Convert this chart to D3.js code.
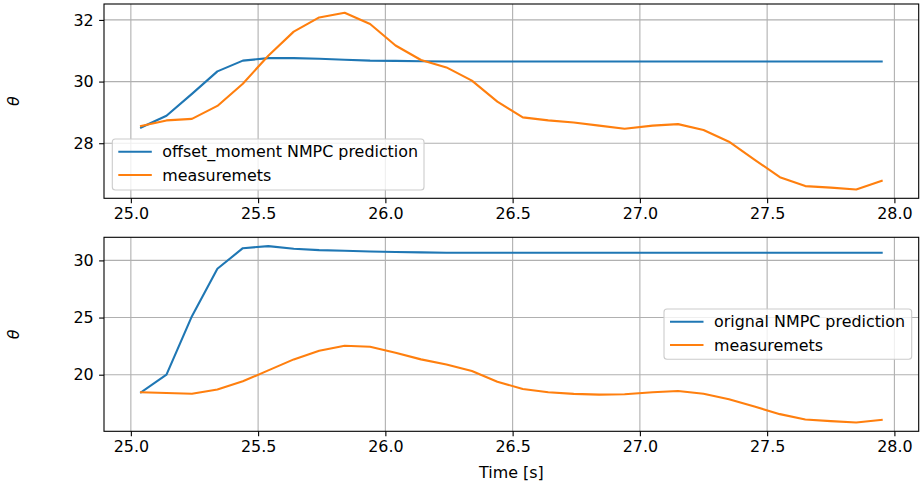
<!DOCTYPE html>
<html>
<head>
<meta charset="utf-8">
<script src="https://cdn.jsdelivr.net/npm/d3@7"></script>
<style>
  html, body { margin: 0; padding: 0; background: #fff; }
  svg { display: block; font-family: "DejaVu Sans", sans-serif; }
</style>
</head>
<body>
<svg id="chart" width="920" height="482"></svg>
<script>
// Sample times [s]
const times = [25.04, 25.14, 25.24, 25.34, 25.44, 25.54, 25.64, 25.74, 25.84, 25.94,
               26.04, 26.14, 26.24, 26.34, 26.44, 26.54, 26.64, 26.74, 26.84, 26.94,
               27.05, 27.15, 27.25, 27.35, 27.45, 27.55, 27.65, 27.75, 27.85, 27.95];

// Upper panel: offset_moment NMPC
const offsetPrediction = [28.51, 28.89, 29.60, 30.33, 30.68, 30.76, 30.76, 30.74, 30.71, 30.68,
                          30.67, 30.66, 30.65, 30.65, 30.65, 30.65, 30.65, 30.65, 30.65, 30.65,
                          30.65, 30.65, 30.65, 30.65, 30.65, 30.65, 30.65, 30.65, 30.65, 30.65];
const offsetMeasurements = [28.56, 28.74, 28.79, 29.21, 29.93, 30.84, 31.62, 32.08, 32.23, 31.87,
                            31.17, 30.70, 30.46, 30.03, 29.35, 28.84, 28.74, 28.67, 28.57, 28.47,
                            28.57, 28.62, 28.43, 28.05, 27.47, 26.90, 26.61, 26.56, 26.50, 26.78];

// Lower panel: original NMPC
const origPrediction = [18.46, 20.00, 25.12, 29.27, 31.07, 31.25, 31.02, 30.90, 30.84, 30.78,
                        30.73, 30.70, 30.67, 30.67, 30.67, 30.67, 30.67, 30.67, 30.67, 30.67,
                        30.67, 30.67, 30.67, 30.67, 30.67, 30.67, 30.67, 30.67, 30.67, 30.67];
const origMeasurements = [18.46, 18.40, 18.34, 18.70, 19.42, 20.38, 21.34, 22.10, 22.53, 22.44,
                          21.92, 21.34, 20.90, 20.32, 19.39, 18.75, 18.46, 18.32, 18.26, 18.29,
                          18.46, 18.58, 18.34, 17.86, 17.21, 16.55, 16.08, 15.94, 15.82, 16.05];

const xTicks = [25.0, 25.5, 26.0, 26.5, 27.0, 27.5, 28.0];
const yTicksTop = [28, 30, 32];
const yTicksBottom = [20, 25, 30];

const legendTop = ["offset_moment NMPC prediction", "measuremets"];
const legendBottom = ["orignal NMPC prediction", "measuremets"];

const BLUE = "#1f77b4", ORANGE = "#ff7f0e";
const FONT = 15.9;

const svg = d3.select("#chart");
const left = 104, right = 918.7;

function padded(arrays) {
  const all = arrays.flat();
  const lo = d3.min(all), hi = d3.max(all), m = (hi - lo) * 0.05;
  return [lo - m, hi + m];
}

const xDomain = padded([times]);
const x = d3.scaleLinear().domain(xDomain).range([left, right]);

function panel(cfg) {
  const { top, bottom, series, yTicks, legend, legendBox } = cfg;
  const y = d3.scaleLinear().domain(padded(series)).range([bottom, top]);
  const g = svg.append("g");

  // grid
  g.append("g").selectAll("line").data(xTicks).join("line")
    .attr("x1", d => x(d)).attr("x2", d => x(d))
    .attr("y1", top).attr("y2", bottom)
    .attr("stroke", "#b0b0b0").attr("stroke-width", 1.1);
  g.append("g").selectAll("line").data(yTicks).join("line")
    .attr("x1", left).attr("x2", right)
    .attr("y1", d => y(d)).attr("y2", d => y(d))
    .attr("stroke", "#b0b0b0").attr("stroke-width", 1.1);

  // series lines
  const line = d3.line().x((d, i) => x(times[i])).y(d => y(d));
  const colors = [BLUE, ORANGE];
  series.forEach((s, k) => {
    g.append("path").datum(s)
      .attr("d", line)
      .attr("fill", "none")
      .attr("stroke", colors[k])
      .attr("stroke-width", 2.1)
      .attr("stroke-linejoin", "round")
      .attr("stroke-linecap", "square");
  });

  // axes
  const xAxis = d3.axisBottom(x).tickValues(xTicks).tickFormat(d3.format(".1f"))
    .tickSize(4.9).tickPadding(4.5);
  const ax = g.append("g").attr("transform", `translate(0,${bottom})`).call(xAxis);
  const yAxis = d3.axisLeft(y).tickValues(yTicks).tickFormat(d3.format("d"))
    .tickSize(4.9).tickPadding(5.5);
  const ay = g.append("g").attr("transform", `translate(${left},0)`).call(yAxis);
  [ax, ay].forEach(a => {
    a.select(".domain").remove();
    a.selectAll("line").attr("stroke", "#000").attr("stroke-width", 1.1);
    a.selectAll("text").attr("font-size", FONT)
      .attr("font-family", "DejaVu Sans").attr("fill", "#000");
  });

  // frame
  g.append("rect")
    .attr("x", left).attr("y", top)
    .attr("width", right - left).attr("height", bottom - top)
    .attr("fill", "none").attr("stroke", "#000").attr("stroke-width", 1.1);

  // y label
  g.append("text")
    .attr("transform", `translate(19,${(top + bottom) / 2}) rotate(-90)`)
    .attr("text-anchor", "middle")
    .attr("font-size", FONT).attr("font-style", "italic")
    .attr("font-family", "DejaVu Sans")
    .text("θ");

  // legend
  const lb = legendBox;
  const lg = g.append("g");
  lg.append("rect")
    .attr("x", lb.x).attr("y", lb.y).attr("width", lb.w).attr("height", lb.h)
    .attr("rx", 3).attr("fill", "#fff").attr("fill-opacity", 0.8)
    .attr("stroke", "#cccccc").attr("stroke-width", 1.1);
  legend.forEach((name, k) => {
    const cy = lb.y + 12.7 + k * 23.3;
    lg.append("line")
      .attr("x1", lb.x + 6).attr("x2", lb.x + 39.5)
      .attr("y1", cy).attr("y2", cy)
      .attr("stroke", colors[k]).attr("stroke-width", 2.1);
    lg.append("text")
      .attr("x", lb.x + 50).attr("y", cy + 5.5)
      .attr("font-size", FONT).attr("font-family", "DejaVu Sans")
      .text(name);
  });
  return g;
}

panel({
  top: 4, bottom: 198.3,
  series: [offsetPrediction, offsetMeasurements],
  yTicks: yTicksTop,
  legend: legendTop,
  legendBox: { x: 112.3, y: 139, w: 311.7, h: 51 }
});

panel({
  top: 237.3, bottom: 431.3,
  series: [origPrediction, origMeasurements],
  yTicks: yTicksBottom,
  legend: legendBottom,
  legendBox: { x: 664, y: 309, w: 247.7, h: 50.3 }
});

svg.append("text")
  .attr("x", (left + right) / 2).attr("y", 477.5)
  .attr("text-anchor", "middle")
  .attr("font-size", FONT).attr("font-family", "DejaVu Sans")
  .text("Time [s]");
</script>
</body>
</html>
